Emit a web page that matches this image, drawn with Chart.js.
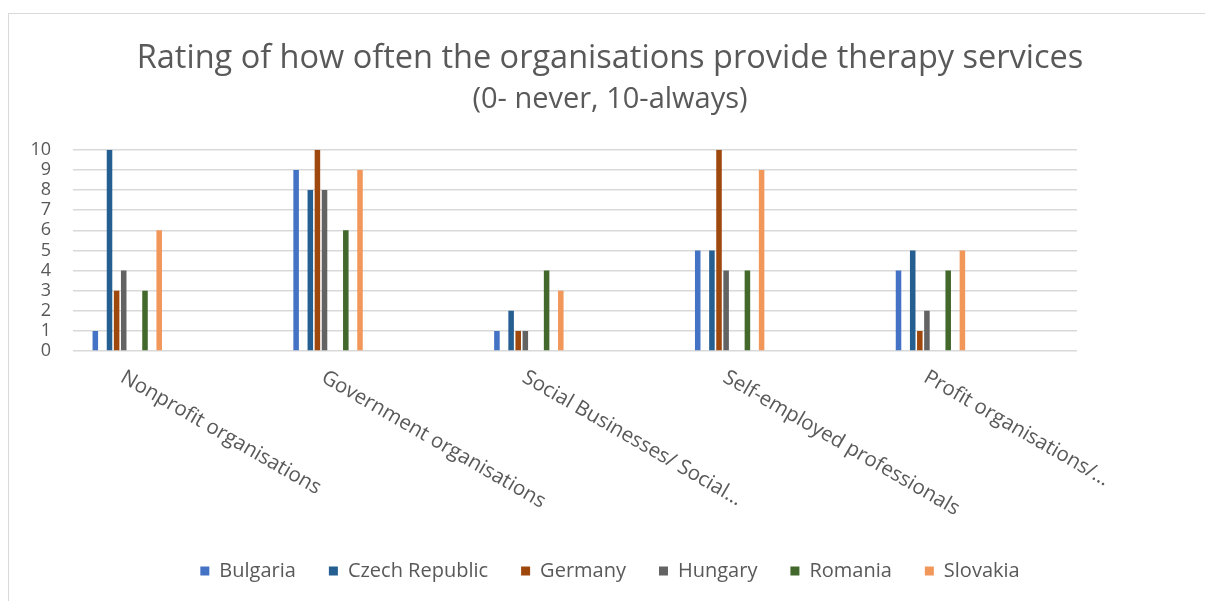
<!DOCTYPE html>
<html>
<head>
<meta charset="utf-8">
<script src="https://cdn.jsdelivr.net/npm/chart.js@4.4.1/dist/chart.umd.min.js"></script>
<style>
    html, body { margin: 0; padding: 0; background: #ffffff; }
    #wrap { width: 1205px; height: 601px; }
</style>
</head>
<body>
<div id="wrap"><canvas id="chart1" width="1205" height="601"></canvas></div>
<script>
const categories = [
    'Nonprofit organisations',
    'Government organisations',
    'Social Businesses/ Social…',
    'Self-employed professionals',
    'Profit organisations/…'
]

const bulgaria = [1, 9, 1, 5, 4]
const czechRepublic = [10, 8, 2, 5, 5]
const germany = [3, 10, 1, 10, 1]
const hungary = [4, 8, 1, 4, 2]
const romania = [3, 6, 4, 4, 4]
const slovakia = [6, 9, 3, 9, 5]

const yTicks = [0, 1, 2, 3, 4, 5, 6, 7, 8, 9, 10]

// the source sheet had 23 country columns, only these six carry values;
// the rest stay as empty series so the bars keep their slot spacing
const slotCount = 23
const countries = [
    { label: 'Bulgaria', data: bulgaria, color: '#4472C4', slot: 0 },
    { label: 'Czech Republic', data: czechRepublic, color: '#255E91', slot: 2 },
    { label: 'Germany', data: germany, color: '#9E480E', slot: 3 },
    { label: 'Hungary', data: hungary, color: '#636363', slot: 4 },
    { label: 'Romania', data: romania, color: '#43682B', slot: 7 },
    { label: 'Slovakia', data: slovakia, color: '#F1975A', slot: 9 }
]

const datasets = []
for (let i = 0; i < slotCount; i++) {
    const c = countries.find(c => c.slot === i)
    if (c) {
        datasets.push({ label: c.label, data: c.data, backgroundColor: c.color })
    } else {
        datasets.push({ label: '', data: categories.map(() => null), backgroundColor: 'rgba(0,0,0,0)' })
    }
}

const textColor = '#595959'
const fontFamily = '"Open Sans", sans-serif'

// frame around the chart + rotated category labels
const chartExtras = {
    id: 'chartExtras',
    beforeDraw(chart) {
        const ctx = chart.ctx
        ctx.save()
        ctx.fillStyle = '#ffffff'
        ctx.fillRect(0, 0, chart.width, chart.height)
        ctx.strokeStyle = '#d9d9d9'
        ctx.lineWidth = 1
        ctx.strokeRect(8.5, 13.5, 1205, 601)
        ctx.restore()
    },
    afterDraw(chart) {
        const ctx = chart.ctx
        const x = chart.scales.x
        ctx.save()
        ctx.fillStyle = textColor
        ctx.font = '20.5px ' + fontFamily
        ctx.textAlign = 'left'
        ctx.textBaseline = 'top'
        categories.forEach((label, i) => {
            const cx = x.getPixelForValue(i)
            ctx.save()
            ctx.translate(cx - 46, 367)
            ctx.rotate(30 * Math.PI / 180)
            ctx.fillText(label, 0, 0)
            ctx.restore()
        })
        ctx.restore()
    }
}

const ctx = document.querySelector('#chart1').getContext('2d')
const chart1 = new Chart(ctx, {
    type: 'bar',
    data: {
        labels: categories,
        datasets: datasets
    },
    plugins: [chartExtras],
    options: {
        responsive: false,
        animation: false,
        layout: {
            padding: { left: 20, right: 5, top: 20, bottom: 10 }
        },
        datasets: {
            bar: {
                categoryPercentage: 0.813,
                barPercentage: 0.78
            }
        },
        scales: {
            x: {
                grid: { display: false },
                border: { display: false },
                ticks: { display: false },
                afterFit(scale) {
                    scale.height = 177
                }
            },
            y: {
                min: 0,
                max: 10,
                afterBuildTicks(scale) {
                    scale.ticks = yTicks.map(v => ({ value: v }))
                },
                grid: {
                    color: '#d9d9d9',
                    lineWidth: 1.5,
                    drawTicks: false
                },
                border: { display: false },
                ticks: {
                    autoSkip: false,
                    color: textColor,
                    font: { family: fontFamily, size: 18 },
                    padding: 22
                },
                afterFit(scale) {
                    scale.width = 53
                }
            },
            // empty right-hand axis, only reserves the blank strip on the right
            yRight: {
                position: 'right',
                grid: { display: false },
                border: { display: false },
                ticks: { display: false },
                afterFit(scale) {
                    scale.width = 123
                }
            }
        },
        plugins: {
            title: {
                display: true,
                text: 'Rating of how often the organisations provide therapy services',
                color: textColor,
                font: { family: fontFamily, size: 32.5, weight: 'normal' },
                padding: { top: 19, bottom: 0 }
            },
            subtitle: {
                display: true,
                text: '(0- never, 10-always)',
                color: textColor,
                font: { family: fontFamily, size: 29, weight: 'normal' },
                padding: { top: 4, bottom: 33 }
            },
            legend: {
                display: true,
                position: 'bottom',
                labels: {
                    color: textColor,
                    font: { family: fontFamily, size: 20 },
                    boxWidth: 9,
                    boxHeight: 9,
                    padding: 33,
                    filter: item => item.text !== ''
                }
            },
            tooltip: { enabled: false }
        }
    }
})
</script>
</body>
</html>
